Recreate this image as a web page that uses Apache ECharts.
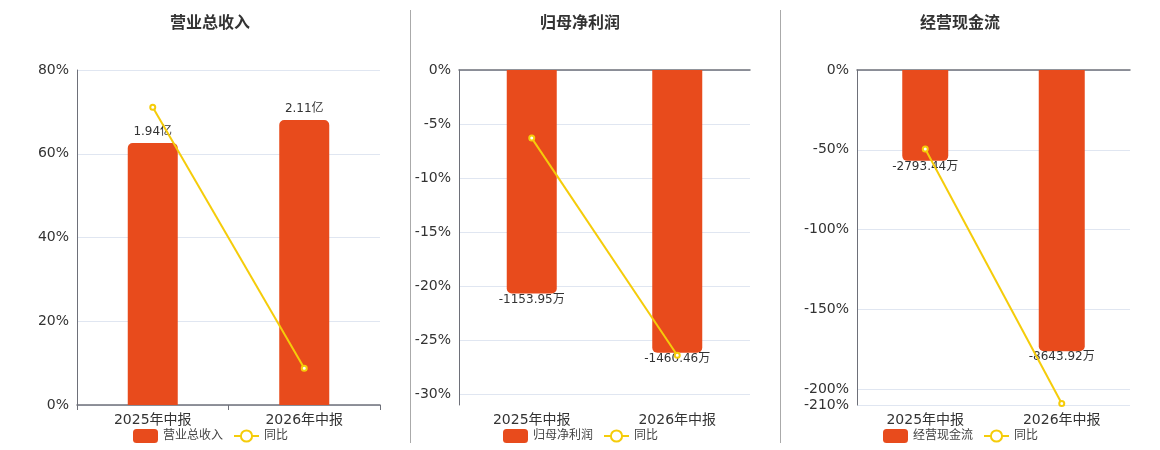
<!DOCTYPE html>
<html>
<head>
<meta charset="utf-8">
<script src="https://cdn.jsdelivr.net/npm/echarts@6/dist/echarts.min.js"></script>
<style>
  html, body { margin: 0; padding: 0; background: #fff; }
  #main { width: 1160px; height: 450px; }
</style>
</head>
<body>
<div id="main"></div>
<script>
(function (echarts) {
  'use strict';

  var categories = ['2025年中报', '2026年中报'];

  // 营业总收入 (亿) and its yoy (%)
  var revenue = [1.94, 2.11];
  var revenueYoy = [71.1, 8.8];

  // 归母净利润 (万) and its yoy (%)
  var profit = [-1153.95, -1460.46];
  var profitYoy = [-6.3, -26.4];

  // 经营现金流 (万) and its yoy (%)
  var cash = [-2793.44, -8643.92];
  var cashYoy = [-49.5, -209];

  var revenueTicks = [0, 20, 40, 60, 80];
  var profitTicks = [0, -5, -10, -15, -20, -25, -30];
  var cashTicks = [0, -50, -100, -150, -200, -210];

  var BAR = '#E84B1C';
  var LINE = '#F5CC0A';
  var TEXT = '#333';
  var FONT = '"DejaVu Sans", "Noto Sans CJK SC", sans-serif';

  var panels = [
    {title: '营业总收入', center: 205, left: 77, right: 780, legendLeft: 128,
     bars: revenue, yoy: revenueYoy, unit: '亿', ticks: revenueTicks,
     pMin: 0, pMax: 80, bMin: 0, bMax: 2.48, barWidth: 50, negative: false},
    {title: '归母净利润', center: 575, left: 459, right: 410, legendLeft: 498,
     bars: profit, yoy: profitYoy, unit: '万', ticks: profitTicks,
     pMin: -31, pMax: 0, bMin: -1730, bMax: 0, barWidth: 50, negative: true},
    {title: '经营现金流', center: 955, left: 857, right: 30, legendLeft: 878,
     bars: cash, yoy: cashYoy, unit: '万', ticks: cashTicks,
     pMin: -210, pMax: 0, bMin: -10300, bMax: 0, barWidth: 46, negative: true}
  ];

  var title = [], grid = [], xAxis = [], yAxis = [], legend = [], series = [];

  panels.forEach(function (p, i) {
    title.push({
      text: p.title, left: p.center, top: 9, textAlign: 'center',
      textStyle: {fontSize: 16, fontWeight: 'bold', color: TEXT, fontFamily: '"Noto Sans CJK SC", sans-serif'}
    });
    grid.push({left: p.left, right: p.right, top: 70, bottom: 45});

    // labelled category axis at the bottom
    xAxis.push({
      type: 'category', gridIndex: i, data: categories, position: 'bottom',
      axisLine: {show: !p.negative, onZero: false, lineStyle: {color: '#6E7079', width: 1.5}},
      axisTick: {show: !p.negative},
      axisLabel: {color: TEXT, fontSize: 14, margin: 8}
    });
    // zero line at the top for the negative panels
    xAxis.push({
      type: 'category', gridIndex: i, data: categories, position: 'top',
      show: p.negative,
      axisLine: {onZero: false, lineStyle: {color: '#6E7079', width: 1.5}},
      axisTick: {inside: true},
      axisLabel: {show: false}
    });

    var yIndex = yAxis.length;
    yAxis.push({
      type: 'value', gridIndex: i, min: p.pMin, max: p.pMax, position: 'left',
      axisLine: {show: true, lineStyle: {color: '#6E7079'}},
      axisTick: {show: false, customValues: p.ticks},
      axisLabel: {color: TEXT, fontSize: 14, formatter: '{value}%',
                  customValues: p.ticks, showMinLabel: true, showMaxLabel: true},
      splitLine: {show: true, lineStyle: {color: '#E0E6F1'}}
    });
    yAxis.push({
      type: 'value', gridIndex: i, min: p.bMin, max: p.bMax, show: false,
      splitLine: {show: false}
    });

    legend.push({
      left: p.legendLeft, top: 424, itemWidth: 25, itemHeight: 14, itemGap: 10,
      data: [p.title, '同比'],
      textStyle: {color: '#444', fontSize: 12}
    });

    series.push({
      name: p.title, type: 'bar', xAxisIndex: i * 2, yAxisIndex: yIndex + 1,
      data: p.bars, barWidth: p.barWidth,
      itemStyle: {color: BAR, borderRadius: p.negative ? [0, 0, 5, 5] : [5, 5, 0, 0]},
      label: {
        show: true, position: p.negative ? 'bottom' : 'top', distance: p.negative ? 0 : 5,
        color: TEXT, fontSize: 12,
        formatter: function (d) { return d.value + p.unit; }
      },
      z: 2
    });
    series.push({
      name: '同比', type: 'line', xAxisIndex: i * 2, yAxisIndex: yIndex,
      data: p.yoy, symbol: 'emptyCircle', symbolSize: 5,
      itemStyle: {color: LINE}, lineStyle: {color: LINE, width: 2},
      z: 3
    });
  });

  echarts.init(document.getElementById('main')).setOption({
    backgroundColor: '#fff',
    animation: false,
    textStyle: {fontFamily: FONT},
    title: title,
    grid: grid,
    xAxis: xAxis,
    yAxis: yAxis,
    legend: legend,
    series: series,
    graphic: [
      {type: 'line', shape: {x1: 410.5, y1: 10, x2: 410.5, y2: 443}, style: {stroke: '#aaa', lineWidth: 1}},
      {type: 'line', shape: {x1: 780.5, y1: 10, x2: 780.5, y2: 443}, style: {stroke: '#aaa', lineWidth: 1}}
    ]
  });
})(window.echarts);
</script>
</body>
</html>
